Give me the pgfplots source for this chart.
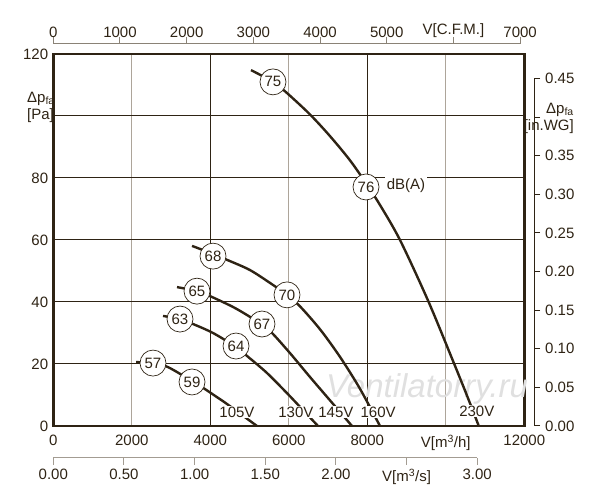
\documentclass[border=0pt]{standalone}
\usepackage{fontspec}
\setmainfont{Liberation Sans}
\usepackage{pgfplots}
\pgfplotsset{compat=1.18}
\definecolor{ink}{HTML}{2E2314}
\definecolor{lgrid}{HTML}{ADA59A}
\definecolor{sgrey}{HTML}{8A8276}
\definecolor{bgrey}{HTML}{A39C92}
\newcommand{\fs}{\fontsize{15}{17}\selectfont}
\begin{document}
\fs
\begin{tikzpicture}[x=1pt,y=1pt]
\path[use as bounding box] (0,0) rectangle (600,500);
\tikzset{circ/.style={circle, draw=ink, line width=0.7pt, fill=white, minimum size=26pt, inner sep=0pt, text=ink, font=\fs},
  volt/.style={fill=white, inner sep=1pt, text=ink, font=\fs},
  curve/.style={ink, line width=2.4pt, smooth}}
% main axis
\begin{axis}[
  at={(53.3pt,74pt)}, anchor=south west, scale only axis,
  width=471pt, height=372pt,
  xmin=0, xmax=12000, ymin=0, ymax=120,
  xtick={0,2000,...,12000},
  xticklabels={0,2000,4000,6000,8000,{V[m\textsuperscript{3}/h]},12000},
  ytick={0,20,...,120},
  yticklabels={0,20,40,60,80,,120},
  major tick length=0pt,
  tick label style={font=\fs, text=ink},
  xticklabel style={yshift=-4pt},
  xmajorgrids, ymajorgrids,
  x grid style={lgrid, line width=1pt},
  y grid style={ink, line width=1pt},
  extra x ticks={4000,8000}, extra x tick labels={},
  extra x tick style={x grid style={ink, line width=1pt}},
  axis line style={ink, line width=2.6pt},
  clip=false,
  scaled x ticks=false, scaled y ticks=false,
]
\node[text=black!12, font=\itshape\fontsize{33}{35}\selectfont] at (axis cs:9521,12.0) {Ventilatorry.ru};
% 230V
\addplot[curve] coordinates {(5037,114.8) (5597,111.0) (5954,107.4) (6540,100.5) (7050,93.5) (7559,85.7) (7967,78.3) (8323,71.3) (8833,60.0) (9546,40.5) (10183,21.0) (10540,9.8) (10840,0)};
% 160V
\addplot[curve] coordinates {(3534,58.1) (4069,55.5) (4425,53.6) (5011,50.3) (5597,45.5) (5954,42.3) (6285,38.6) (6795,31.2) (7304,22.3) (7814,12.0) (8323,0)};
% 145V
\addplot[curve] coordinates {(3152,44.8) (3661,43.5) (3992,41.9) (4578,38.4) (5011,35.2) (5317,32.5) (5572,30.0) (6031,23.5) (6540,15.8) (6973,9.4) (7610,0)};
% 130V
\addplot[curve] coordinates {(2795,35.5) (3228,34.5) (3559,32.9) (4069,30.0) (4655,25.5) (4935,22.6) (5444,17.1) (5954,10.6) (6209,7.2) (6744,0)};
% 105V
\addplot[curve] coordinates {(2109,20.6) (2540,20.3) (2922,19.0) (3534,14.5) (3865,11.9) (4171,9.3) (4425,7.1) (5189,0)};
\node[circ] at (axis cs:5597,111.0) {75};
\node[circ] at (axis cs:7967,77.1) {76};
\node[fill=white, inner sep=2pt, text=ink, font=\fs] at (axis cs:8986,77.4) {dB(A)};
\node[circ] at (axis cs:4069,54.8) {68};
\node[circ] at (axis cs:5954,42.3) {70};
\node[circ] at (axis cs:3661,43.5) {65};
\node[circ] at (axis cs:5317,32.9) {67};
\node[circ] at (axis cs:3228,34.5) {63};
\node[circ] at (axis cs:4655,25.8) {64};
\node[circ] at (axis cs:2540,20.3) {57};
\node[circ] at (axis cs:3534,14.2) {59};
\node[volt] at (axis cs:4680,4.5) {105V};
\node[volt] at (axis cs:6180,4.5) {130V};
\node[volt] at (axis cs:7200,4.5) {145V};
\node[volt] at (axis cs:8275,4.5) {160V};
\node[volt] at (axis cs:10790,4.8) {230V};
\end{axis}
% top CFM axis
\begin{axis}[
  at={(53.3pt,456pt)}, anchor=north west, scale only axis,
  width=466.8pt, height=20pt,
  xmin=0, xmax=7000, ymin=0, ymax=1,
  axis x line*=top, hide y axis,
  tick align=outside, major tick length=7pt,
  xtick={0,1000,...,7000},
  xticklabels={0,1000,2000,3000,4000,5000,{V[C.F.M.]},7000},
  x axis line style={sgrey, line width=1pt},
  xtick style={sgrey, line width=1pt},
  tick label style={font=\fs, text=ink},
  xticklabel style={yshift=-6pt},
  scaled x ticks=false,
]
\addplot[draw=none] coordinates {(0,0)};
\end{axis}
% bottom m3/s axis
\begin{axis}[
  at={(53.3pt,42pt)}, anchor=south west, scale only axis,
  width=423.9pt, height=20pt,
  xmin=0, xmax=3, ymin=0, ymax=1,
  axis x line*=bottom, hide y axis,
  tick align=outside, major tick length=7pt,
  xtick={0,0.5,...,3.0},
  xticklabels={0.00,0.50,1.00,1.50,2.00,{V[m\textsuperscript{3}/s]},3.00},
  x axis line style={bgrey, line width=1pt},
  xtick style={bgrey, line width=1pt},
  tick label style={font=\fs, text=ink},
  xticklabel style={yshift=1pt},
]
\addplot[draw=none] coordinates {(0,0)};
\end{axis}
% right in.WG axis
\begin{axis}[
  at={(534pt,74pt)}, anchor=south east, scale only axis,
  width=10pt, height=347.5pt,
  xmin=0, xmax=1, ymin=0, ymax=0.45,
  axis y line*=right, hide x axis,
  tick align=outside, major tick length=6pt,
  ytick={0,0.05,...,0.45},
  yticklabels={0.00,0.05,0.10,0.15,0.20,0.25,0.30,0.35,,0.45},
  y axis line style={ink, line width=1pt},
  ytick style={ink, line width=1pt},
  tick label style={font=\fs, text=ink},
]
\addplot[draw=none] coordinates {(0,0)};
\end{axis}
\node[anchor=west, text=ink, font=\fs, align=left] at (22pt,393pt) {Δp\textsubscript{fa}\\{[Pa]}};
\node[anchor=east, text=ink, font=\fs, align=right] at (579pt,382pt) {Δp\textsubscript{fa}\\{[in.WG]}};
\end{tikzpicture}
\end{document}
